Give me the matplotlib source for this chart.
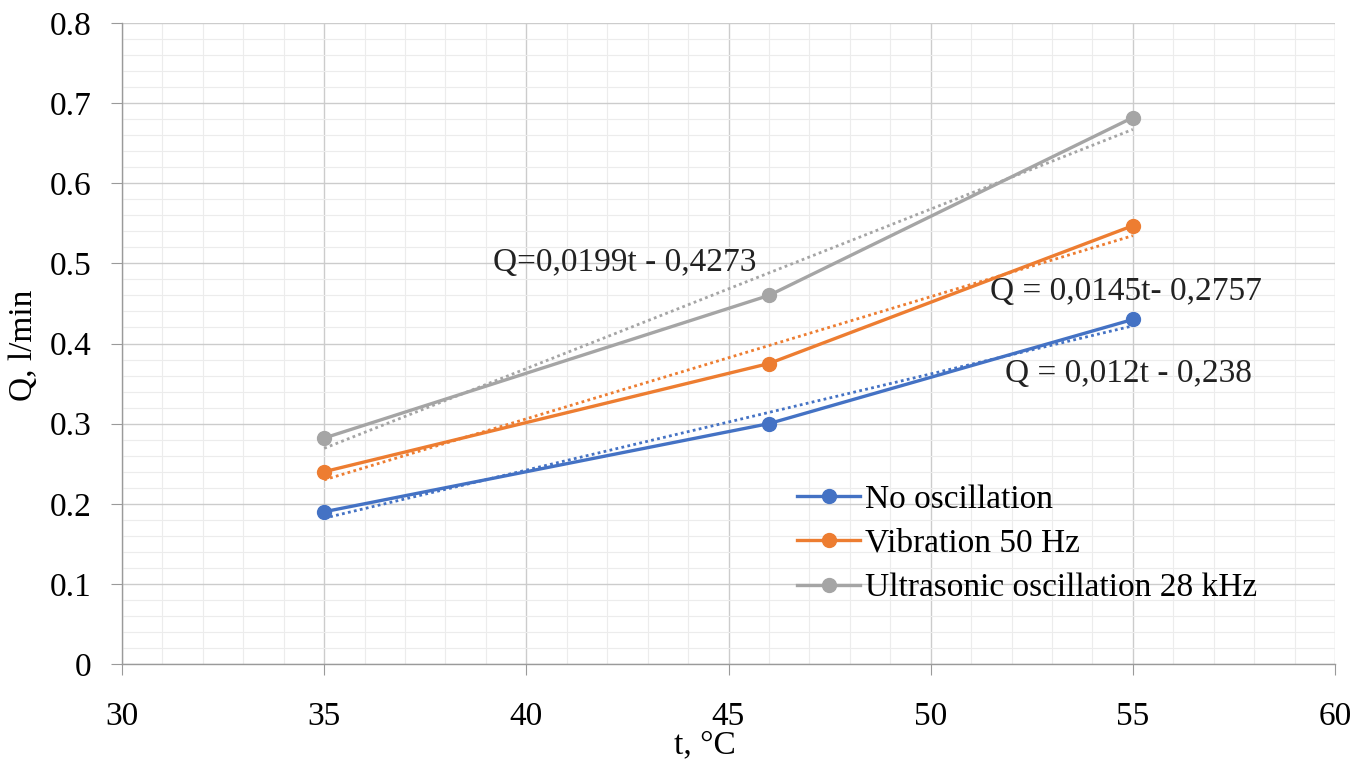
import matplotlib
matplotlib.use("Agg")
import matplotlib.pyplot as plt
from matplotlib.ticker import MultipleLocator
import numpy as np

plt.rcParams['font.family'] = ['Liberation Serif', 'DejaVu Serif']

temps = [35, 46, 55]
no_osc = [0.19, 0.30, 0.43]
vib_50 = [0.24, 0.375, 0.547]
ultra_28 = [0.282, 0.46, 0.682]
series_names = ["No oscillation", "Vibration 50 Hz", "Ultrasonic oscillation 28 kHz"]
colors = ["#4472C4", "#ED7D31", "#A5A5A5"]

trend_slopes = [0.012, 0.01524, 0.0199]
trend_intercepts = [-0.238, -0.3036, -0.4273]
eq_labels = ["Q = 0,012t - 0,238", "Q = 0,0145t- 0,2757", "Q=0,0199t - 0,4273"]
eq_pos = [(1005, 374), (990, 292), (493, 263)]  # pixel positions of labels

FS = 24

fig = plt.figure(figsize=(13.61, 7.62), dpi=100)
W, H = 1361, 762
ax = fig.add_axes([122 / W, 1 - 664 / H, (1335 - 122) / W, (664 - 23) / H])

ax.set_xlim(30, 60)
ax.set_ylim(0, 0.8)
ax.xaxis.set_major_locator(MultipleLocator(5))
ax.xaxis.set_minor_locator(MultipleLocator(1))
ax.yaxis.set_major_locator(MultipleLocator(0.1))
ax.yaxis.set_minor_locator(MultipleLocator(0.02))
ax.grid(which='major', color='#cccccc', linewidth=1.0)
ax.grid(which='minor', color='#ececec', linewidth=0.8)
ax.set_axisbelow(True)
for s in ['top', 'right']:
    ax.spines[s].set_visible(False)
for s in ['left', 'bottom']:
    ax.spines[s].set_color('#9a9a9a')
    ax.spines[s].set_linewidth(1.0)
ax.tick_params(axis='both', which='major', length=8, color='#9a9a9a', labelsize=FS)
ax.tick_params(axis='x', which='major', pad=19)
ax.tick_params(axis='y', which='major', pad=14)
ax.tick_params(which='minor', length=0)

ax.yaxis.set_major_formatter(matplotlib.ticker.FuncFormatter(lambda v, p: "0" if abs(v) < 1e-9 else f"{v:.1f}"))

data = [no_osc, vib_50, ultra_28]
tx = np.array([min(temps), max(temps)], dtype=float)
for ys, name, c, k, b in zip(data, series_names, colors, trend_slopes, trend_intercepts):
    ax.plot(tx, k * tx + b, linestyle=(0, (1, 1.2)), color=c, linewidth=2.0, zorder=3)
    ax.plot(temps, ys, color=c, linewidth=2.4, marker='o', markersize=10, label=name, zorder=4)

for lbl, (px, py) in zip(eq_labels, eq_pos):
    fig.text(px / W, 1 - py / H, lbl, fontsize=FS, ha='left', va='center', color='#222222')

leg = ax.legend(loc='upper left', bbox_to_anchor=((797 - 122) / (1335 - 122), (664 - 484) / (664 - 23)),
                frameon=False, fontsize=FS, handlelength=1.9, handletextpad=0.15,
                labelspacing=0.42, borderaxespad=0, borderpad=0)

fig.text(24 / W, 1 - 345 / H, "Q, l/min", rotation=90, fontsize=FS, ha='center', va='center')
fig.text(705 / W, 2 / H, "t, °C", fontsize=FS, ha='center', va='bottom')

fig.savefig("out.png", dpi=100)
